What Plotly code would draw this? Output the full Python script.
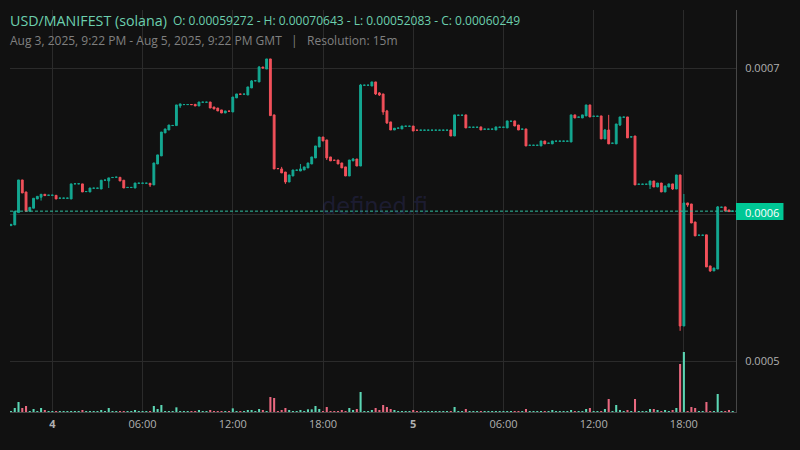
import pandas as pd
import plotly.graph_objects as go

# prices are in units of 1e-7 USD
START = "2025-08-03 21:15"
FREQ = "15min"

opens_e7 = [
    5926, 5931, 6015, 6238, 6156, 6024, 6045, 6108, 6120, 6140, 6133, 6133, 6133, 6113, 6113, 6113,
    6108, 6211, 6211, 6211, 6158, 6156, 6181, 6181, 6176, 6236, 6231, 6254, 6256, 6256, 6236, 6186,
    6186, 6183, 6215, 6215, 6215, 6215, 6204, 6347, 6402, 6559, 6579, 6609, 6609, 6743, 6752, 6752,
    6753, 6754, 6743, 6768, 6768, 6770, 6736, 6729, 6716, 6695, 6708, 6702, 6798, 6824, 6823, 6818,
    6866, 6914, 6907, 7009, 6995, 7064, 6682, 6316, 6313, 6292, 6224, 6265, 6304, 6299, 6306, 6320,
    6347, 6388, 6463, 6531, 6511, 6395, 6373, 6374, 6354, 6327, 6265, 6368, 6381, 6333, 6884, 6884,
    6879, 6907, 6832, 6825, 6709, 6634, 6579, 6591, 6586, 6604, 6604, 6606, 6578, 6577, 6577, 6577,
    6577, 6577, 6577, 6577, 6577, 6579, 6538, 6679, 6679, 6682, 6597, 6597, 6597, 6600, 6584, 6584,
    6584, 6579, 6597, 6597, 6593, 6638, 6641, 6613, 6584, 6586, 6474, 6474, 6474, 6470, 6504, 6488,
    6484, 6502, 6502, 6502, 6502, 6497, 6682, 6666, 6661, 6675, 6750, 6672, 6672, 6675, 6518, 6579,
    6488, 6484, 6613, 6666, 6668, 6531, 6538, 6208, 6208, 6208, 6204, 6231, 6190, 6217, 6156, 6190,
    6211, 6176, 6272, 5241, 6081, 6074, 5951, 5860, 5860, 5863, 5651, 5617, 5630, 6051, 6054, 6033,
    6024,
]
closes_e7 = [
    5935, 6024, 6238, 6149, 6024, 6051, 6113, 6126, 6140, 6131, 6134, 6134, 6108, 6114, 6114, 6114,
    6211, 6212, 6212, 6156, 6159, 6183, 6182, 6182, 6236, 6237, 6252, 6255, 6257, 6231, 6183, 6187,
    6187, 6217, 6216, 6216, 6216, 6204, 6354, 6409, 6565, 6586, 6613, 6610, 6750, 6757, 6753, 6753,
    6752, 6743, 6770, 6769, 6769, 6729, 6722, 6709, 6695, 6709, 6707, 6804, 6825, 6823, 6824, 6873,
    6914, 6915, 7009, 7002, 7064, 6677, 6313, 6315, 6286, 6224, 6272, 6306, 6305, 6313, 6327, 6354,
    6395, 6470, 6531, 6504, 6388, 6368, 6372, 6347, 6320, 6265, 6374, 6381, 6333, 6886, 6885, 6885,
    6907, 6825, 6818, 6702, 6627, 6579, 6591, 6592, 6606, 6605, 6605, 6572, 6577, 6578, 6578, 6578,
    6578, 6578, 6578, 6578, 6578, 6538, 6682, 6680, 6680, 6593, 6598, 6598, 6598, 6579, 6585, 6585,
    6585, 6600, 6598, 6598, 6641, 6639, 6606, 6579, 6585, 6470, 6475, 6475, 6475, 6504, 6484, 6489,
    6504, 6503, 6503, 6503, 6503, 6682, 6661, 6667, 6682, 6750, 6668, 6673, 6673, 6518, 6579, 6484,
    6489, 6620, 6668, 6667, 6525, 6532, 6204, 6209, 6209, 6209, 6231, 6190, 6217, 6156, 6197, 6211,
    6176, 6272, 5241, 6081, 6067, 5944, 5856, 5861, 5861, 5644, 5617, 5637, 6054, 6052, 6026, 6022,
    6025,
]
highs_e7 = [
    5935, 6024, 6238, 6238, 6156, 6051, 6113, 6126, 6140, 6140, 6134, 6134, 6133, 6114, 6114, 6114,
    6211, 6212, 6212, 6211, 6159, 6183, 6182, 6182, 6236, 6237, 6252, 6255, 6257, 6256, 6236, 6187,
    6187, 6217, 6216, 6216, 6216, 6215, 6354, 6409, 6565, 6586, 6613, 6610, 6750, 6757, 6753, 6753,
    6753, 6754, 6770, 6769, 6769, 6770, 6736, 6729, 6716, 6709, 6708, 6804, 6825, 6824, 6824, 6873,
    6920, 6915, 7016, 7009, 7064, 7064, 6682, 6316, 6327, 6292, 6272, 6306, 6305, 6347, 6327, 6354,
    6395, 6470, 6531, 6531, 6511, 6395, 6373, 6374, 6354, 6327, 6374, 6388, 6381, 6893, 6885, 6885,
    6907, 6907, 6838, 6825, 6716, 6634, 6591, 6592, 6606, 6605, 6605, 6606, 6578, 6578, 6578, 6578,
    6578, 6578, 6578, 6578, 6578, 6579, 6682, 6680, 6680, 6682, 6598, 6598, 6598, 6600, 6585, 6585,
    6585, 6600, 6598, 6598, 6641, 6639, 6641, 6613, 6585, 6586, 6475, 6475, 6475, 6504, 6504, 6489,
    6504, 6503, 6503, 6503, 6503, 6682, 6682, 6667, 6682, 6750, 6750, 6673, 6673, 6675, 6586, 6682,
    6489, 6620, 6668, 6667, 6668, 6532, 6538, 6209, 6209, 6209, 6231, 6231, 6217, 6217, 6197, 6211,
    6211, 6272, 6272, 6142, 6081, 6074, 5951, 5861, 5861, 5863, 5651, 5637, 6060, 6052, 6054, 6033,
    6025,
]
lows_e7 = [
    5926, 5931, 6015, 6149, 6024, 6024, 6045, 6108, 6097, 6131, 6133, 6133, 6108, 6113, 6113, 6113,
    6108, 6211, 6211, 6156, 6158, 6156, 6181, 6181, 6176, 6236, 6183, 6254, 6256, 6231, 6183, 6186,
    6186, 6183, 6215, 6215, 6215, 6190, 6204, 6347, 6402, 6559, 6579, 6609, 6609, 6729, 6752, 6752,
    6752, 6743, 6743, 6768, 6768, 6729, 6722, 6709, 6695, 6695, 6707, 6702, 6798, 6823, 6823, 6818,
    6866, 6914, 6907, 7002, 6995, 6677, 6313, 6315, 6286, 6211, 6224, 6265, 6304, 6299, 6306, 6320,
    6347, 6388, 6463, 6504, 6374, 6368, 6372, 6347, 6320, 6265, 6265, 6368, 6333, 6333, 6884, 6884,
    6879, 6818, 6811, 6682, 6620, 6579, 6579, 6591, 6586, 6604, 6604, 6572, 6577, 6577, 6577, 6577,
    6577, 6577, 6577, 6577, 6577, 6538, 6538, 6679, 6679, 6593, 6597, 6597, 6597, 6579, 6584, 6584,
    6584, 6579, 6597, 6597, 6593, 6638, 6606, 6579, 6584, 6470, 6474, 6474, 6474, 6470, 6484, 6488,
    6484, 6502, 6502, 6502, 6502, 6497, 6661, 6666, 6661, 6675, 6668, 6672, 6672, 6518, 6518, 6484,
    6488, 6484, 6606, 6666, 6525, 6531, 6204, 6208, 6208, 6208, 6176, 6190, 6190, 6156, 6156, 6190,
    6170, 6176, 5208, 5241, 6054, 5944, 5856, 5860, 5860, 5644, 5610, 5617, 5630, 6051, 6026, 6022,
    6024,
]
volumes = [
    200, 1200, 3000, 1200, 1800, 200, 900, 200, 1200, 600, 200, 200, 200, 200, 200, 200,
    200, 200, 200, 600, 200, 200, 200, 200, 500, 200, 1200, 200, 200, 200, 200, 200,
    200, 500, 200, 200, 200, 200, 1800, 900, 2100, 200, 200, 200, 1400, 200, 200, 200,
    200, 200, 600, 200, 200, 600, 200, 200, 200, 200, 200, 1100, 200, 200, 200, 500,
    500, 200, 900, 600, 200, 4500, 4200, 200, 600, 1200, 600, 200, 200, 600, 200, 800,
    800, 1800, 900, 200, 1500, 200, 200, 200, 600, 200, 1200, 600, 900, 6000, 200, 200,
    500, 1200, 600, 2100, 1500, 900, 600, 200, 200, 200, 200, 500, 200, 200, 200, 200,
    200, 200, 200, 200, 200, 200, 1500, 200, 200, 900, 200, 200, 200, 200, 200, 200,
    200, 200, 200, 200, 200, 200, 200, 200, 200, 900, 200, 200, 200, 200, 200, 200,
    500, 200, 200, 200, 200, 500, 200, 200, 200, 900, 1200, 200, 200, 200, 900, 3900,
    200, 2100, 600, 200, 600, 200, 3900, 200, 200, 200, 900, 900, 600, 200, 600, 200,
    600, 1200, 14400, 18000, 200, 1500, 1200, 200, 200, 3000, 200, 200, 5400, 200, 200, 500,
    200,
]

tick_dates = ["2025-08-04 00:00", "2025-08-04 06:00", "2025-08-04 12:00", "2025-08-04 18:00",
              "2025-08-05 00:00", "2025-08-05 06:00", "2025-08-05 12:00", "2025-08-05 18:00"]
tick_labels = ["<b>4</b>", "06:00", "12:00", "18:00", "<b>5</b>", "06:00", "12:00", "18:00"]
price_ticks = [0.0005, 0.0006, 0.0007]
# the 0.0006 tick sits under the last price tag, which carries that text
price_labels = ["0.0005", "", "0.0007"]
last_price = 0.00060249

UP = "#14a892"
DOWN = "#f2505a"
VOL_UP = "#5cd6b4"
VOL_DOWN = "#e8687f"
BG = "#111111"
GRID = "#2b2b2b"
AXIS = "#474747"

dates = pd.date_range(START, periods=len(opens_e7), freq=FREQ)
opens = [v / 1e7 for v in opens_e7]
highs = [v / 1e7 for v in highs_e7]
lows = [v / 1e7 for v in lows_e7]
closes = [v / 1e7 for v in closes_e7]
vol_colors = [VOL_UP if c >= o else VOL_DOWN for o, c in zip(opens_e7, closes_e7)]

fig = go.Figure()

fig.add_trace(go.Bar(x=dates, y=volumes, marker_color=vol_colors, marker_line_width=0,
                     yaxis="y2", showlegend=False))

fig.add_trace(go.Candlestick(
    x=dates, open=opens, high=highs, low=lows, close=closes,
    increasing=dict(line=dict(color=UP, width=1), fillcolor=UP),
    decreasing=dict(line=dict(color=DOWN, width=1), fillcolor=DOWN),
    showlegend=False,
))

fig.update_layout(
    width=800,
    height=450,
    margin=dict(l=10, r=63.5, t=10, b=38),
    paper_bgcolor=BG,
    plot_bgcolor=BG,
    font=dict(family="Open Sans", color="#b0b0b0", size=11),
    boxgap=0.3,
    bargap=0.45,
    xaxis=dict(
        type="date",
        range=["2025-08-03 21:11", "2025-08-05 21:28"],
        rangeslider=dict(visible=False),
        tickmode="array",
        tickvals=tick_dates,
        ticktext=tick_labels,
        tickangle=0,
        showgrid=True,
        gridcolor=GRID,
        gridwidth=1,
        zeroline=False,
        showline=True,
        linecolor=AXIS,
        ticks="",
        ticklabelstandoff=2,
    ),
    yaxis=dict(
        range=[0.00046539, 0.00073980],
        side="right",
        tickmode="array",
        tickvals=price_ticks,
        ticktext=price_labels,
        showgrid=True,
        gridcolor=GRID,
        gridwidth=1,
        zeroline=False,
        showline=True,
        linecolor=AXIS,
        ticks="",
        ticklabelstandoff=6,
    ),
    yaxis2=dict(range=[0, 120600], overlaying="y", visible=False, fixedrange=True),
    shapes=[
        dict(type="line", xref="paper", yref="y", x0=0, x1=1, y0=last_price, y1=last_price,
             line=dict(color="#2fbf9f", width=1, dash="3px,2px"), layer="above"),
        dict(type="rect", xref="paper", yref="paper", x0=1, x1=(784 - 10) / 726.5,
             y0=(412 - 220) / 402, y1=(412 - 203) / 402,
             fillcolor="#00c795", line=dict(width=0), layer="above"),
    ],
)


def label(px, py, text, size, color, family="Open Sans"):
    fig.add_annotation(xref="paper", yref="paper", x=(px - 10) / 726.5, y=(412 - py) / 402,
                       text=text, showarrow=False, xanchor="left", yanchor="middle",
                       font=dict(size=size, color=color, family=family))


label(8, 20, "USD/MANIFEST (solana)", 14.25, "#6ccfae")
label(171, 20, "O: 0.00059272 - H: 0.00070643 - L: 0.00052083 - C: 0.00060249", 12, "#6ccfae")
label(8, 40, "Aug 3, 2025, 9:22 PM - Aug 5, 2025, 9:22 PM GMT &nbsp; | &nbsp; Resolution: 15m", 12, "#808080")
label(744, 212, "0.0006", 11, "#ffffff")
label(320, 206, "defined.fi", 22.5, "rgba(58,58,130,0.3)", "DejaVu Sans")

# drop the browser's default page margin so the figure starts at the window corner
fig.write_html("out.html", config=dict(displayModeBar=False),
               post_script="document.body.style.margin='0';document.body.style.background='#111111';")
